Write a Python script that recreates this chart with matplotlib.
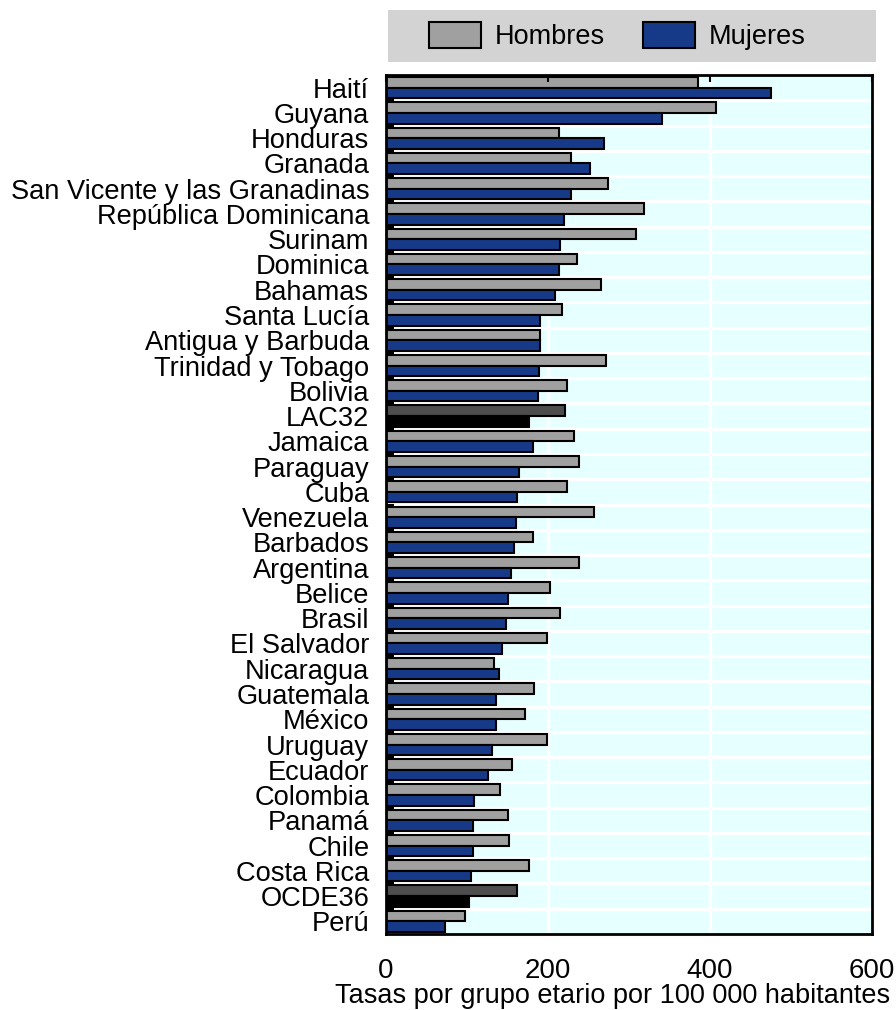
import matplotlib
matplotlib.use("Agg")
import matplotlib.pyplot as plt
from matplotlib.patches import Rectangle, Patch
import numpy as np

plt.rcParams['font.family'] = ['Liberation Sans', 'DejaVu Sans']

countries = ["Haití", "Guyana", "Honduras", "Granada", "San Vicente y las Granadinas",
             "República Dominicana", "Surinam", "Dominica", "Bahamas", "Santa Lucía",
             "Antigua y Barbuda", "Trinidad y Tobago", "Bolivia", "LAC32", "Jamaica",
             "Paraguay", "Cuba", "Venezuela", "Barbados", "Argentina", "Belice", "Brasil",
             "El Salvador", "Nicaragua", "Guatemala", "México", "Uruguay", "Ecuador",
             "Colombia", "Panamá", "Chile", "Costa Rica", "OCDE36", "Perú"]
hombres = [385, 408, 214, 228, 274, 318, 309, 236, 265, 217,
           190, 272, 223, 221, 232, 238, 223, 257, 182, 238, 202, 215,
           199, 133, 183, 172, 199, 156, 141, 150, 152, 176, 162, 98]
mujeres = [475, 341, 269, 252, 228, 220, 215, 213, 209, 190,
           190, 189, 188, 176, 181, 164, 162, 160, 158, 154, 151, 148,
           143, 140, 136, 136, 131, 126, 109, 107, 107, 105, 103, 73]
xticks = [0, 200, 400, 600]
highlight = ["LAC32", "OCDE36"]

W, H = 896, 1010
fig = plt.figure(figsize=(W/100, H/100), dpi=100)
ax = fig.add_axes([386/W, 1-934/H, (872-386)/W, (934-75)/H])
ax.set_facecolor('#E6FFFF')

y = np.arange(len(countries))
c_h = ['#4D4D4D' if c in highlight else '#A0A0A0' for c in countries]
c_m = ['#000000' if c in highlight else '#173A88' for c in countries]
bh = 0.42
ax.barh(y - bh/2, hombres, height=bh, color=c_h, edgecolor='black', linewidth=1.5, zorder=2)
ax.barh(y + bh/2, mujeres, height=bh, color=c_m, edgecolor='black', linewidth=1.5, zorder=2)

# white gridlines below bars
for xv in xticks[1:-1]:
    ax.axvline(xv, color='white', linewidth=2.4, zorder=1)
for yb in np.arange(len(countries) - 1) + 0.5:
    ax.axhline(yb, color='white', linewidth=2.4, zorder=1)

ax.set_xlim(0, 600)
ax.set_ylim(len(countries) - 0.5, -0.5)
ax.set_xticks(xticks)
ax.set_xticklabels([str(v) for v in xticks], fontsize=20)
ax.set_yticks(y)
ax.set_yticklabels(countries, fontsize=19.6)
ax.set_yticks(np.arange(len(countries) - 1) + 0.5, minor=True)

ax.tick_params(axis='y', which='major', length=0, pad=12)
ax.tick_params(axis='y', which='minor', direction='in', length=6, width=1.5, color='black', left=True)
ax.tick_params(axis='x', which='major', direction='in', length=5, width=1.5,
               bottom=False, top=True, labelbottom=True, labeltop=False, pad=17)
ax.set_axisbelow(False)
for s in ax.spines.values():
    s.set_linewidth(2)
    s.set_color('black')
    s.set_zorder(5)

fig.text(890/W, 1-996/H, "Tasas por grupo etario por 100 000 habitantes",
         ha='right', va='center', fontsize=19.5)

fig.patches.append(Rectangle((388/W, 1-62/H), (876-388)/W, 52/H,
                             transform=fig.transFigure, facecolor='#D3D3D3',
                             edgecolor='none', zorder=0))
handles = [Patch(facecolor='#A0A0A0', edgecolor='black', linewidth=1.5, label='Hombres'),
           Patch(facecolor='#173A88', edgecolor='black', linewidth=1.5, label='Mujeres')]
fig.legend(handles=handles, loc='center', bbox_to_anchor=(617/W, 1-36/H), ncol=2,
           frameon=False, fontsize=19.5, handlelength=1.93, handleheight=1.1,
           handletextpad=0.5, columnspacing=1.4)

fig.savefig('out.png', dpi=100)
